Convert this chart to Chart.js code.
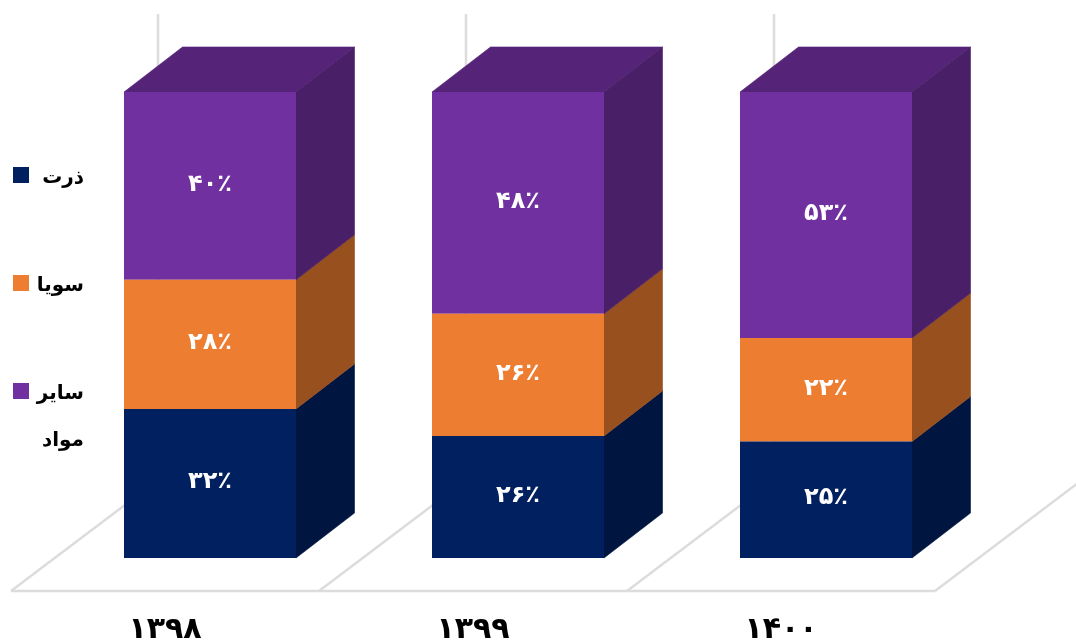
<!DOCTYPE html>
<html>
<head>
<meta charset="utf-8">
<style>html,body{margin:0;padding:0;background:#fff}canvas{display:block}</style>
<script src="https://cdn.jsdelivr.net/npm/chart.js@4"></script>
</head>
<body>
<canvas id="c" width="1076" height="643"></canvas>
<script>
const categories = ['۱۳۹۸', '۱۳۹۹', '۱۴۰۰'];
const seriesNames = ['ذرت', 'سویا', 'سایر مواد'];
const corn = [32, 26.2, 25];
const soy = [27.7, 26.2, 22.2];
const other = [40.3, 47.6, 52.8];
const valueLabels = [
  ['۳۲٪', '۲۶٪', '۲۵٪'],
  ['۲۸٪', '۲۶٪', '۲۲٪'],
  ['۴۰٪', '۴۸٪', '۵۳٪']
];
const frontColors = ['#002060', '#ED7D31', '#7030A0'];
const sideColors = ['#001540', '#99501F', '#491F68'];
const topColor = '#552479';
const gridColor = '#DCDCDC';
const FONT = '"DejaVu Sans"';

const depth = {dx: 58.5, dy: 45};     // bar depth
const floorShift = {dx: 45, dy: 33};  // floor front edge vs. bar front plane
const wallShift = {dx: 102, dy: 78};  // back wall vs. bar front plane

function poly(ctx, pts, fill) {
  ctx.beginPath();
  pts.forEach((p, i) => i ? ctx.lineTo(p[0], p[1]) : ctx.moveTo(p[0], p[1]));
  ctx.closePath();
  ctx.fillStyle = fill;
  ctx.strokeStyle = fill;
  ctx.lineWidth = 0.6;
  ctx.fill();
  ctx.stroke();
}

const scene3d = {
  id: 'scene3d',
  beforeDatasetsDraw(chart) {
    const {ctx, scales: {x, y}} = chart;
    const band = x.width / categories.length;
    const y0 = y.getPixelForValue(0), y100 = y.getPixelForValue(100);
    const fy = y0 + floorShift.dy, fx = x.left - floorShift.dx;
    ctx.save();
    ctx.strokeStyle = gridColor;
    ctx.lineWidth = 2.5;
    for (let i = 0; i <= categories.length; i++) {
      const sx = fx + band * i;
      const wx = x.left + wallShift.dx + band * i;
      const wy = y0 - wallShift.dy;
      if (i < categories.length) {
        ctx.beginPath();
        ctx.moveTo(wx, wy);
        ctx.lineTo(wx, y100 - wallShift.dy);
        ctx.stroke();
      }
      ctx.beginPath();
      ctx.moveTo(sx, fy);
      ctx.lineTo(wx, wy);
      ctx.stroke();
    }
    ctx.beginPath();
    ctx.moveTo(fx, fy);
    ctx.lineTo(fx + band * categories.length, fy);
    ctx.stroke();
    chart.data.datasets.forEach((ds, d) => {
      chart.getDatasetMeta(d).data.forEach(el => {
        const r = el.x + el.width / 2;
        if (d === chart.data.datasets.length - 1) {
          const l = el.x - el.width / 2;
          poly(ctx, [[l, el.y], [l + depth.dx, el.y - depth.dy], [r + depth.dx, el.y - depth.dy], [r, el.y]], topColor);
        }
        poly(ctx, [[r, el.y], [r + depth.dx, el.y - depth.dy], [r + depth.dx, el.base - depth.dy], [r, el.base]], sideColors[d]);
      });
    });
    ctx.restore();
  },
  afterDatasetsDraw(chart) {
    const {ctx} = chart;
    ctx.save();
    ctx.textAlign = 'center';
    ctx.textBaseline = 'middle';
    ctx.fillStyle = '#fff';
    ctx.font = 'bold 24px ' + FONT;
    chart.data.datasets.forEach((ds, d) => {
      chart.getDatasetMeta(d).data.forEach((el, i) => {
        ctx.fillText(valueLabels[d][i], el.x, (el.y + el.base) / 2 - 1.5);
      });
    });
    ctx.restore();
  },
  afterDraw(chart) {
    const {ctx} = chart;
    ctx.save();
    const rows = [175, 283, 391];
    chart.data.datasets.forEach((ds, d) => {
      ctx.fillStyle = frontColors[d];
      ctx.fillRect(13, rows[d] - 8, 16, 16);
      ctx.fillStyle = '#000';
      ctx.font = 'bold 20px ' + FONT;
      ctx.textAlign = 'right';
      ctx.textBaseline = 'middle';
      const words = seriesNames[d].split(' ');
      words.forEach((w, k) => ctx.fillText(w, 84, rows[d] + 3 + k * 47));
    });
    ctx.restore();
  }
};

new Chart(document.getElementById('c'), {
  type: 'bar',
  data: {
    labels: categories,
    datasets: [
      {label: seriesNames[0], data: corn, backgroundColor: frontColors[0]},
      {label: seriesNames[1], data: soy, backgroundColor: frontColors[1]},
      {label: seriesNames[2], data: other, backgroundColor: frontColors[2]}
    ]
  },
  options: {
    responsive: false,
    animation: false,
    layout: {padding: {left: 56, top: 92, right: 96, bottom: 0}},
    datasets: {bar: {categoryPercentage: 1, barPercentage: 172 / 308}},
    plugins: {legend: {display: false}, tooltip: {enabled: false}},
    scales: {
      x: {
        stacked: true,
        grid: {display: false, drawTicks: false},
        border: {display: false},
        afterFit(s) { s.height = 85; },
        ticks: {
          color: '#000',
          font: {family: FONT, size: 30, weight: 'bold'},
          labelOffset: -45,
          padding: 54,
          maxRotation: 0
        }
      },
      y: {stacked: true, display: false, min: 0, max: 100}
    }
  },
  plugins: [scene3d]
});
</script>
</body>
</html>
